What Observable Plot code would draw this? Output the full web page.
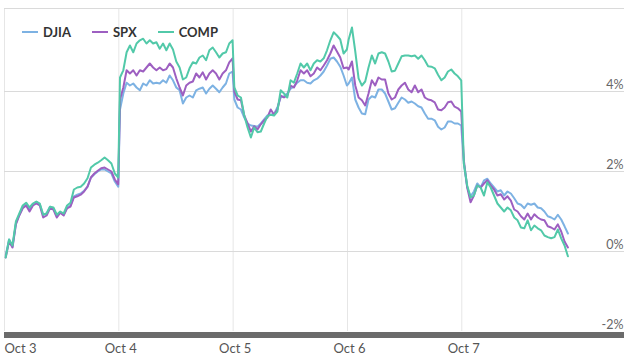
<!DOCTYPE html>
<html><head><meta charset="utf-8">
<script src="https://cdn.jsdelivr.net/npm/d3@7"></script>
<script src="https://cdn.jsdelivr.net/npm/@observablehq/plot@0.6"></script>
<style>
body{margin:0;background:#fff;font-family:Lato,sans-serif;}
#wrap{position:relative;width:632px;height:362px;}
#legend{position:absolute;left:22px;top:24px;height:16px;display:flex;align-items:center;font:700 13px Lato,sans-serif;color:#333;}
#legend .item{display:flex;align-items:center;margin-right:21px;}
#legend .sw{width:16px;height:2px;margin-right:5px;}
</style></head><body><div id="wrap"><div id="legend"></div></div>
<script>
// Trading days (each session 390 minutes, 9:30-16:00)
const days = ["Oct 3","Oct 4","Oct 5","Oct 6","Oct 7"];
const sessionMinutes = 390;
// first / last sampled minute of each session (values evenly spaced in between)
const sampleWindows = [[4,388],[4,388],[4,388],[4,388],[7,362]];
const seriesNames = ["DJIA","SPX","COMP"];
const seriesColors = ["#7db2e3","#9d5fc1","#52c9a9"];
const yTicks = [-2,0,2,4];
const yDomain = [-2, 6.075];

// % change, DJIA
const djiaOct3 = [-0.1,0.3,0.12,0.7,0.92,1.1,1.18,1.05,1.18,1.24,1.18,0.92,0.95,1.12,1.08,0.88,0.98,0.92,1.1,1.15,1.38,1.42,1.45,1.52,1.62,1.85,1.93,2.0,2.05,2.05,2.0,1.95,1.75,1.62];
const djiaOct4 = [3.55,3.95,4.22,4.15,4.2,4.1,4.03,4.2,4.15,4.28,4.2,4.22,4.2,4.28,4.22,4.4,4.28,4.1,4.03,3.7,3.85,3.9,3.85,4.03,4.07,4.1,3.95,4.07,4.15,4.07,3.98,4.1,4.2,4.45,4.5];
const djiaOct5 = [3.8,3.6,3.55,3.35,3.2,3.15,3.14,3.12,3.2,3.3,3.4,3.42,3.44,3.6,3.85,3.88,3.95,4.07,4.12,4.22,4.28,4.28,4.22,4.2,4.28,4.32,4.4,4.5,4.65,4.82,4.85,4.75,4.62,4.4,4.15];
const djiaOct6 = [4.2,4.35,3.8,3.6,3.45,3.43,3.8,3.88,3.85,4.05,4.05,3.95,3.75,3.55,3.58,3.72,3.85,3.8,3.72,3.75,3.7,3.63,3.6,3.45,3.32,3.32,3.28,3.12,3.05,3.1,3.25,3.25,3.2,3.2,3.15];
const djiaOct7 = [2.2,1.6,1.38,1.5,1.7,1.6,1.78,1.82,1.7,1.6,1.5,1.53,1.4,1.5,1.45,1.33,1.2,1.17,1.08,1.2,1.17,1.2,1.1,1.08,1.0,0.88,0.85,0.8,0.92,0.8,0.63,0.45];

// % change, SPX
const spxOct3 = [-0.15,0.25,0.1,0.68,0.9,1.08,1.15,1.0,1.15,1.2,1.15,0.85,0.9,1.08,1.05,0.85,0.97,0.9,1.08,1.12,1.35,1.38,1.42,1.5,1.62,1.85,1.95,2.02,2.08,2.1,2.05,2.0,1.8,1.68];
const spxOct4 = [3.8,4.1,4.53,4.45,4.53,4.4,4.53,4.5,4.6,4.7,4.6,4.53,4.6,4.53,4.56,4.7,4.6,4.33,4.1,3.9,4.15,4.22,4.25,4.45,4.35,4.48,4.3,4.45,4.53,4.45,4.3,4.45,4.53,4.73,4.83];
const spxOct5 = [4.0,3.8,3.78,3.4,3.2,3.0,3.13,3.05,3.18,3.28,3.35,3.55,3.42,3.55,3.9,3.85,3.9,4.15,4.1,4.28,4.53,4.45,4.53,4.38,4.45,4.6,4.53,4.65,4.78,4.95,5.15,5.0,4.85,4.58,4.6];
const spxOct6 = [4.55,4.75,4.15,3.85,3.78,3.65,3.95,4.28,4.15,4.35,4.3,4.3,3.95,3.8,3.85,4.05,4.15,4.22,4.05,3.98,4.15,3.98,4.05,3.85,3.8,3.78,3.73,3.55,3.53,3.6,3.73,3.75,3.62,3.58,3.5];
const spxOct7 = [2.28,1.6,1.23,1.4,1.65,1.6,1.7,1.78,1.65,1.55,1.4,1.43,1.3,1.38,1.27,1.05,1.0,0.88,0.8,0.95,0.8,0.93,0.85,0.8,0.78,0.63,0.6,0.55,0.68,0.5,0.25,0.1];

// % change, COMP
const compOct3 = [-0.15,0.3,0.15,0.75,0.95,1.15,1.22,1.1,1.2,1.25,1.2,0.92,0.95,1.12,1.1,0.92,1.0,0.95,1.15,1.22,1.55,1.6,1.62,1.7,1.83,2.1,2.17,2.22,2.28,2.35,2.28,2.2,1.95,1.85];
const compOct4 = [4.35,4.53,4.98,5.15,4.98,5.2,5.28,5.32,5.2,5.28,5.2,5.23,5.07,5.2,5.03,5.2,5.05,4.75,4.6,4.3,4.35,4.58,4.73,4.7,4.85,4.9,4.78,5.03,5.1,4.98,4.85,4.95,4.98,5.2,5.28];
const compOct5 = [4.1,3.9,3.85,3.4,3.1,2.85,3.1,2.98,3.0,3.2,3.38,3.42,3.4,3.5,4.03,3.95,3.85,4.28,4.22,4.45,4.7,4.6,4.7,4.53,4.7,4.78,4.75,4.83,5.03,5.28,5.48,5.4,5.3,4.95,5.05];
const compOct6 = [5.3,5.6,5.0,4.33,4.15,4.25,4.6,4.9,4.7,4.95,4.98,4.95,4.75,4.5,4.52,4.7,4.88,4.9,4.9,4.88,4.9,4.82,4.9,4.78,4.63,4.62,4.58,4.42,4.28,4.35,4.5,4.55,4.45,4.38,4.28];
const compOct7 = [2.2,1.65,1.35,1.4,1.65,1.6,1.4,1.73,1.6,1.4,1.2,1.1,1.0,1.1,1.03,0.85,0.78,0.6,0.58,0.78,0.53,0.65,0.58,0.53,0.4,0.36,0.33,0.36,0.55,0.33,0.15,-0.12];

const seriesDays = {
  DJIA: [djiaOct3, djiaOct4, djiaOct5, djiaOct6, djiaOct7],
  SPX: [spxOct3, spxOct4, spxOct5, spxOct6, spxOct7],
  COMP: [compOct3, compOct4, compOct5, compOct6, compOct7]
};

const rows = [];
for (const s of seriesNames) {
  seriesDays[s].forEach((vals, d) => {
    const [a, b] = sampleWindows[d];
    vals.forEach((v, i) => rows.push({series: s, t: d * sessionMinutes + a + i * (b - a) / (vals.length - 1), v}));
  });
}
const dayStarts = days.map((d, i) => ({label: d, t: i * sessionMinutes}));
const xMax = 2115;

const chart = Plot.plot({
  width: 632, height: 362,
  marginLeft: 4, marginRight: 8, marginTop: 8, marginBottom: 31,
  x: {domain: [0, xMax], axis: null},
  y: {domain: yDomain, axis: null},
  color: {domain: seriesNames, range: seriesColors},
  style: {fontFamily: "Lato, sans-serif", background: "#fff"},
  marks: [
    Plot.ruleX(dayStarts, {x: "t", y1: yDomain[0], y2: yDomain[1], stroke: "#e6e6e6", strokeWidth: 1}),
    Plot.ruleY([0, 2, 4, yDomain[1]], {stroke: "#dadada", strokeWidth: 1}),
    Plot.lineY(rows, {x: "t", y: "v", z: "series", stroke: "series", strokeWidth: 2, curve: "linear"}),
    Plot.ruleY([yDomain[0]], {stroke: "#6b6b6b", strokeWidth: 6, dy: 3.5}),
    Plot.text(yTicks, {x: xMax, y: d => d, text: d => `${d}%`, textAnchor: "end", lineAnchor: "bottom", dx: -1, dy: -3, fill: "#666", fontSize: 12.5}),
    Plot.text(dayStarts.slice(0, 1), {x: "t", y: yDomain[0], text: "label", textAnchor: "start", lineAnchor: "top", dy: 12, fill: "#555", fontSize: 13}),
    Plot.text(dayStarts.slice(1), {x: "t", y: yDomain[0], text: "label", textAnchor: "middle", lineAnchor: "top", dx: 2, dy: 12, fill: "#555", fontSize: 13})
  ]
});
document.getElementById("wrap").appendChild(chart);

const legend = document.getElementById("legend");
seriesNames.forEach((s, i) => {
  const item = document.createElement("div");
  item.className = "item";
  const sw = document.createElement("span");
  sw.className = "sw";
  sw.style.background = seriesColors[i];
  const tx = document.createElement("span");
  tx.textContent = s;
  item.appendChild(sw); item.appendChild(tx);
  legend.appendChild(item);
});
</script>
</body></html>
